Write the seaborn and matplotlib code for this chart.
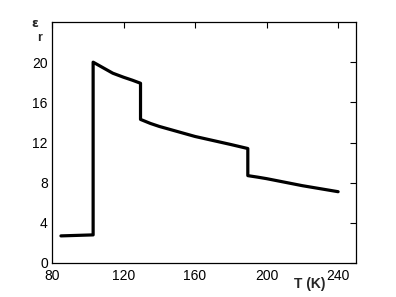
import matplotlib
matplotlib.use("Agg")
import matplotlib.pyplot as plt
import seaborn as sns
import pandas as pd

T = [85, 103, 103, 108, 114, 120, 125, 129.5, 129.5, 135, 140, 150, 160, 170, 180, 189.5, 189.5, 195, 200, 210, 220, 230, 240]
eps = [2.7, 2.8, 20.0, 19.5, 18.9, 18.5, 18.2, 17.9, 14.3, 13.9, 13.6, 13.1, 12.6, 12.2, 11.8, 11.4, 8.7, 8.55, 8.4, 8.05, 7.7, 7.4, 7.1]
xticks = [80, 120, 160, 200, 240]
yticks = [0, 4, 8, 12, 16, 20]

sns.set_theme(style="white")
plt.rcParams['font.family'] = ['Liberation Sans', 'DejaVu Sans']

df = pd.DataFrame({"T": T, "eps": eps, "idx": range(len(T))})
fig = plt.figure(figsize=(3.96, 2.97), dpi=100)
ax = fig.add_axes([52/396, 1 - 263/297, (356-52)/396, (263-22)/297])
sns.lineplot(data=df, x="T", y="eps", units="idx" if False else None, estimator=None,
             sort=False, color="black", linewidth=2.3, ax=ax)
ax.set_xlim(80, 250)
ax.set_ylim(0, 24)
ax.set_xticks(xticks)
ax.set_yticks(yticks)
ax.set_xlabel("")
ax.set_ylabel("")
ax.tick_params(direction="in", top=True, right=True, length=4, width=0.8, labelsize=10, colors="black")
ax.tick_params(axis="x", pad=4)
ax.tick_params(axis="y", pad=3)
for s in ax.spines.values():
    s.set_color("black")
    s.set_linewidth(0.9)
fig.text(35/396, 1 - 30/297, r"$\mathbf{\varepsilon}$", fontsize=9, ha="center", va="bottom")
fig.text(40/396, 1 - 32/297, "r", fontsize=9, fontweight="bold", ha="center", va="top")
fig.text(310/396, 1 - 284/297, "T (K)", fontsize=10, fontweight="bold", ha="center", va="center")
fig.savefig("out.png", dpi=100)
